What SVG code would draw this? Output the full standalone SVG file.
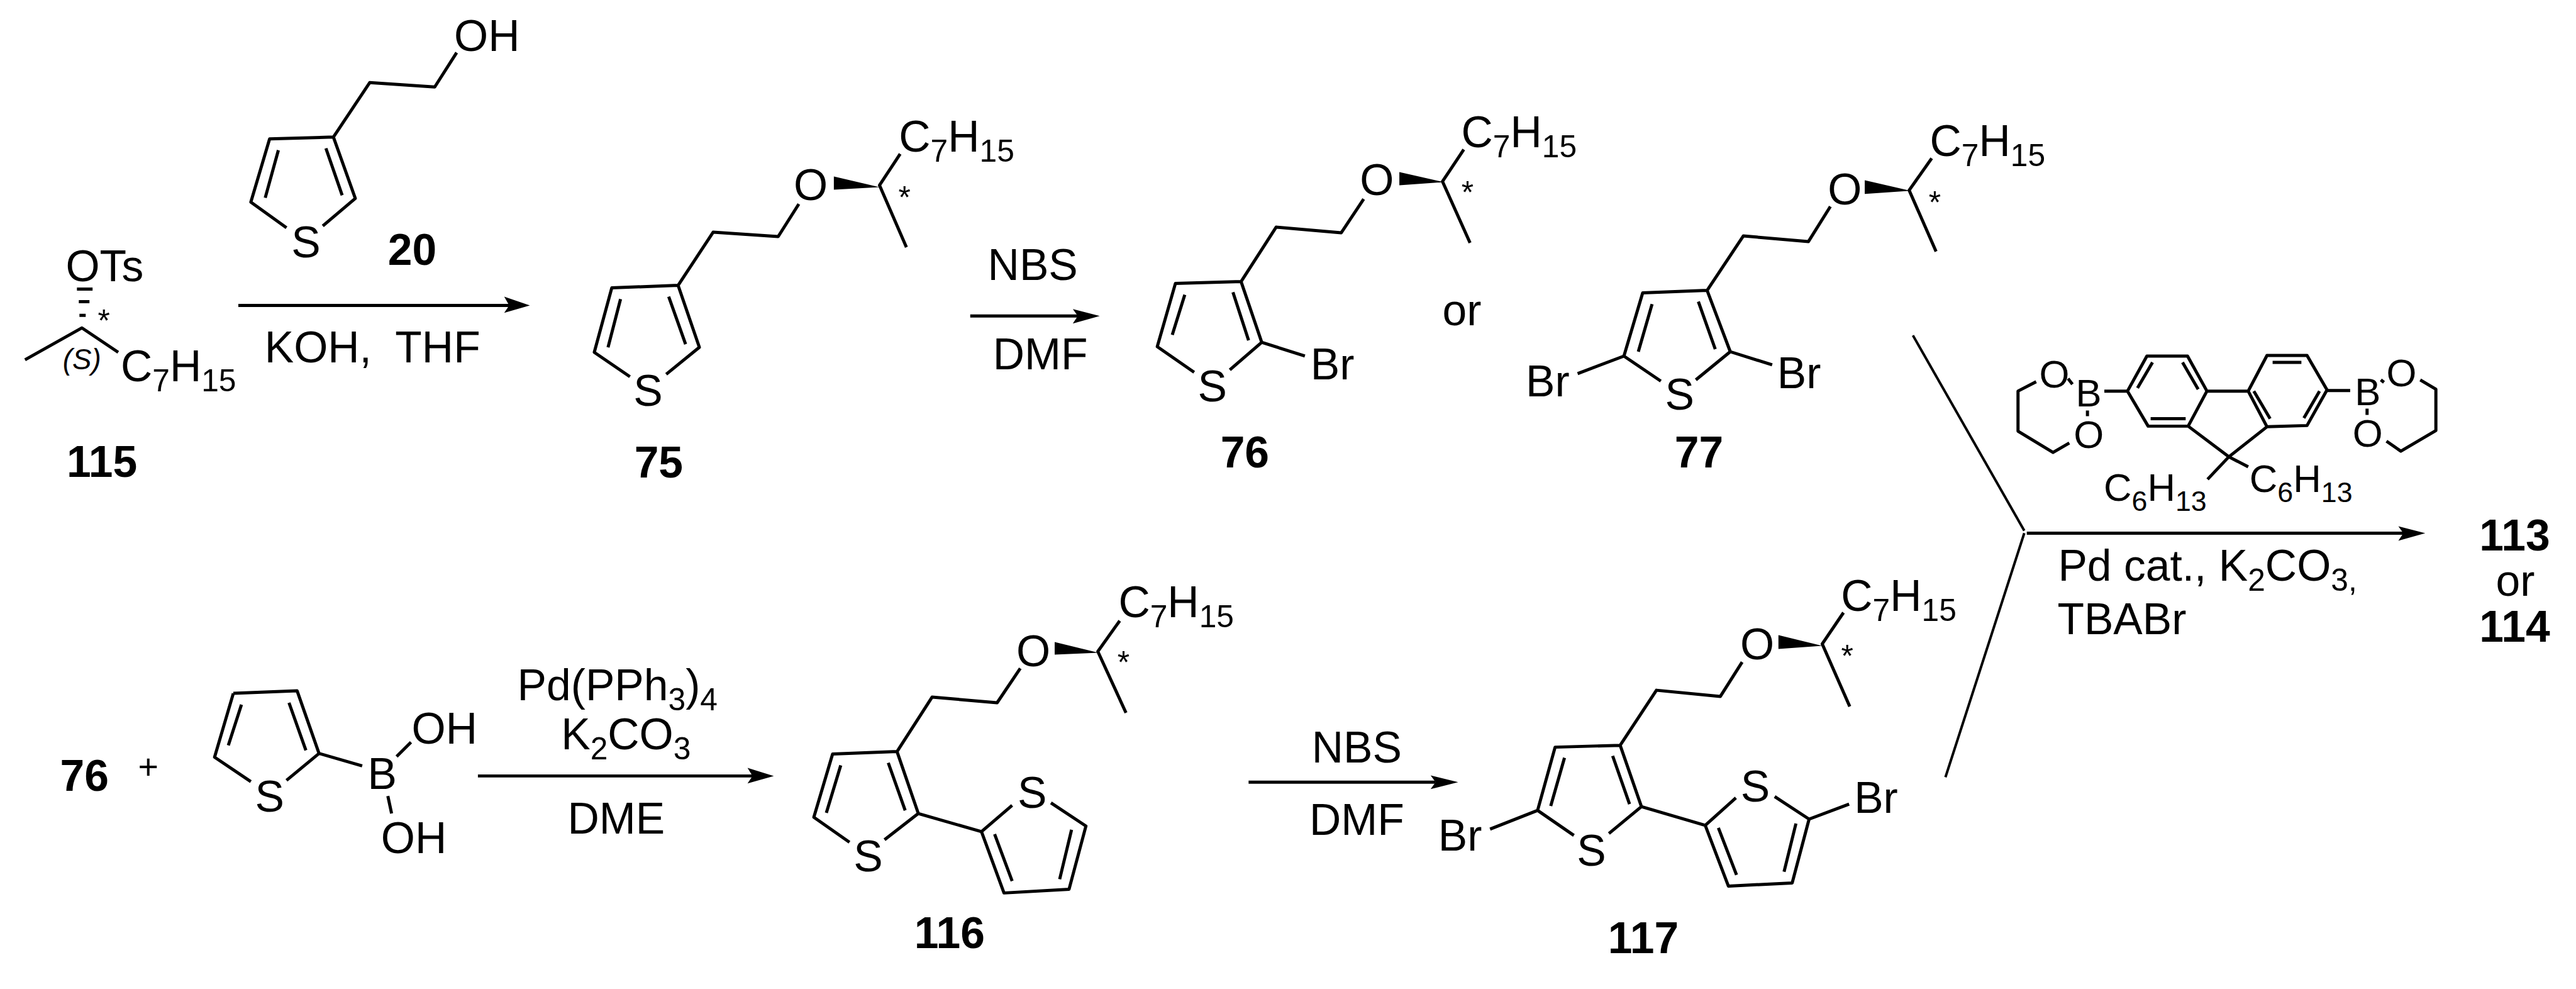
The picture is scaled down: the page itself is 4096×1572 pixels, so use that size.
<svg xmlns="http://www.w3.org/2000/svg" width="4096" height="1572" viewBox="0 0 4096 1572">
<style>
text{font-family:"Liberation Sans",Arial,sans-serif;font-size:70px;fill:#000;white-space:pre}
.m{text-anchor:middle}
.l{font-weight:700}
.s{font-size:50px}
.f{font-size:62px}
.fs{font-size:45px}
.st{font-size:50px;text-anchor:middle}
path{fill:none;stroke:#000;stroke-width:5;stroke-linejoin:round}
.th{stroke-width:4}
polygon{fill:#000;stroke:none}
</style>
<rect width="4096" height="1572" fill="#fff"/>
<g transform="scale(0.99466)">
<g id="connectors">
<path d="M381 488H815"/><polygon points="847,488 806,474 814,488 806,500"/>
<path d="M1551 505H1725"/><polygon points="1758,505 1715,494 1723,505 1715,517"/>
<path d="M764 1240H1205"/><polygon points="1237,1240 1195,1227 1203,1240 1195,1252"/>
<path d="M1996 1250H2295"/><polygon points="2331,1250 2287,1239 2295,1250 2287,1261"/>
<path d="M3240 852H3845"/><polygon points="3877,852 3834,841 3842,852 3834,864"/>
<path class="th" d="M3058 536L3236 848"/>
<path class="th" d="M3236 852L3110 1242"/>
</g>
<g id="reagents">
<text x="423" y="579">KOH,  THF</text>
<text class="m" x="1651" y="447">NBS</text>
<text class="m" x="1663" y="590">DMF</text>
<text class="m" x="2337" y="520">or</text>
<text class="m" x="2169" y="1219">NBS</text>
<text class="m" x="2169" y="1334">DMF</text>
<text x="827" y="1119">Pd(PPh<tspan class="s" dy="16">3</tspan><tspan dy="-16">)</tspan><tspan class="s" dy="16">4</tspan></text>
<text x="897" y="1197">K<tspan class="s" dy="16">2</tspan><tspan dy="-16">CO</tspan><tspan class="s" dy="16">3</tspan></text>
<text class="m" x="985" y="1332">DME</text>
<text x="3290" y="928">Pd cat., K<tspan class="s" dy="16">2</tspan><tspan dy="-16">CO</tspan><tspan class="s" dy="16">3</tspan><tspan class="s" dy="0">,</tspan></text>
<text x="3289" y="1013">TBABr</text>
<text class="m" x="237" y="1245" style="font-size:56px">+</text>
<text class="m l" x="135" y="1264">76</text>
</g>
<g id="compound-20">
<path d="M730 84L695 139L591 132L533 219L431 222L401 323L458 364M533 219L568 317L516 361M445 240L424 316M521 237L547 312"/>
<text x="726" y="81">OH</text>
<text class="m" x="489" y="411">S</text>
<text class="m l" x="659" y="423">20</text>
</g>
<g id="compound-115">
<path d="M40 575L131 524L189 563"/>
<path d="M123 462H148M126 482H143M127 504H137"/>
<text x="105" y="449">OTs</text>
<text class="st" x="166" y="530">*</text>
<text class="m" x="131" y="590" style="font-size:46px;font-style:italic">(S)</text>
<text x="193" y="609">C<tspan class="s" dy="16">7</tspan><tspan dy="-16">H</tspan><tspan class="s" dy="16">15</tspan></text>
<text class="m l" x="163" y="762">115</text>
</g>
<g id="compound-75">
<path d="M1277 326L1244 378L1140 371L1084 456L978 460L950 563L1007 602M1084 456L1118 555L1065 598M992 478L972 555M1069 474L1096 550"/>
<path d="M1439 246L1406 296L1449 395"/>
<polygon points="1333,282 1333,303 1406,299"/>
<text class="m" x="1036" y="648">S</text>
<text class="m" x="1296" y="320">O</text>
<text class="st" x="1446" y="333">*</text>
<text x="1437" y="242">C<tspan class="s" dy="16">7</tspan><tspan dy="-16">H</tspan><tspan class="s" dy="16">15</tspan></text>
<text class="m l" x="1053" y="763">75</text>
</g>
<g id="compound-76">
<path d="M2180 318L2144 372L2040 363L1984 450L1879 453L1850 554L1909 595M1984 450L2017 547L1966 591M2017 547L2086 569M1894 471L1874 535M1971 467L1996 544"/>
<path d="M2340 239L2306 290L2350 388"/>
<polygon points="2237,275 2237,296 2308,291"/>
<text class="m" x="1938" y="641">S</text>
<text x="2095" y="606">Br</text>
<text class="m" x="2201" y="312">O</text>
<text class="st" x="2346" y="325">*</text>
<text x="2336" y="235">C<tspan class="s" dy="16">7</tspan><tspan dy="-16">H</tspan><tspan class="s" dy="16">15</tspan></text>
<text class="m l" x="1990" y="747">76</text>
</g>
<g id="compound-77">
<path d="M2926 330L2891 386L2787 377L2729 464L2626 468L2596 569L2655 609M2729 464L2766 562L2711 607M2596 569L2522 597M2766 562L2833 583M2641 486L2619 562M2715 482L2742 558"/>
<path d="M3088 253L3052 304L3095 402"/>
<polygon points="2981,288 2981,310 3054,305"/>
<text class="m" x="2685" y="655">S</text>
<text x="2439" y="633">Br</text>
<text x="2841" y="620">Br</text>
<text class="m" x="2949" y="327">O</text>
<text class="st" x="3093" y="341">*</text>
<text x="3085" y="249">C<tspan class="s" dy="16">7</tspan><tspan dy="-16">H</tspan><tspan class="s" dy="16">15</tspan></text>
<text class="m l" x="2716" y="747">77</text>
</g>
<g id="boronic-acid">
<path d="M373 1108L475 1104L510 1204L458 1247M373 1108L343 1210L401 1249M510 1204L579 1224M386 1126L365 1191M462 1123L489 1199M634 1209L657 1186M620 1272L626 1300"/>
<text class="m" x="431" y="1297">S</text>
<text class="m" x="611" y="1261">B</text>
<text x="658" y="1188">OH</text>
<text x="609" y="1363">OH</text>
</g>
<g id="compound-116">
<path d="M1631 1068L1594 1123L1490 1114L1434 1201L1331 1205L1301 1306L1358 1346M1434 1201L1468 1300L1414 1342M1468 1300L1569 1329L1618 1287M1569 1329L1605 1427L1709 1421L1736 1320L1680 1283M1344 1223L1321 1299M1420 1219L1447 1295M1590 1333L1618 1408M1713 1326L1694 1405"/>
<path d="M1790 992L1755 1041L1800 1139"/>
<polygon points="1686,1026 1686,1046 1756,1043"/>
<text class="m" x="1388" y="1392">S</text>
<text class="m" x="1650" y="1291">S</text>
<text class="m" x="1652" y="1065">O</text>
<text class="st" x="1796" y="1076">*</text>
<text x="1788" y="986">C<tspan class="s" dy="16">7</tspan><tspan dy="-16">H</tspan><tspan class="s" dy="16">15</tspan></text>
<text class="m l" x="1518" y="1515">116</text>
</g>
<g id="compound-117">
<path d="M2785 1058L2750 1113L2648 1103L2590 1191L2486 1194L2458 1295L2516 1335M2590 1191L2624 1289L2572 1332M2624 1289L2726 1319L2775 1275M2726 1319L2763 1416L2865 1411L2892 1309L2837 1273M2458 1295L2382 1325M2892 1309L2956 1285M2501 1211L2479 1288M2578 1208L2605 1285M2747 1323L2776 1398M2871 1316L2852 1393"/>
<path d="M2947 979L2913 1029L2957 1129"/>
<polygon points="2843,1015 2843,1037 2913,1032"/>
<text class="m" x="2544" y="1383">S</text>
<text class="m" x="2806" y="1281">S</text>
<text x="2299" y="1359">Br</text>
<text x="2964" y="1299">Br</text>
<text class="m" x="2809" y="1054">O</text>
<text class="st" x="2953" y="1066">*</text>
<text x="2943" y="976">C<tspan class="s" dy="16">7</tspan><tspan dy="-16">H</tspan><tspan class="s" dy="16">15</tspan></text>
<text class="m l" x="2627" y="1523">117</text>
</g>
<g id="fluorene-reagent">
<path d="M3401 625L3432 569H3497L3528 625L3498 681H3434ZM3594 625L3624 568H3688L3720 623L3688 680L3624 682ZM3528 625H3594M3498 681L3563 730L3624 682M3563 730L3529 766M3563 730L3594 746M3417 620L3441 579M3489 579L3514 622M3438 669H3494M3633 579H3679M3708 625L3683 668M3603 625L3629 669"/>
<path d="M3255 610L3226 625V689L3282 723L3308 708M3306 605L3313 614M3337 656V665M3364 625H3401M3869 607L3894 622V688L3838 721L3815 705M3720 624H3757M3784 653V663M3806 607L3811 611"/>
<text class="m f" x="3339" y="649">B</text>
<text class="m f" x="3284" y="619">O</text>
<text class="m f" x="3339" y="716">O</text>
<text class="m f" x="3785" y="647">B</text>
<text class="m f" x="3839" y="617">O</text>
<text class="m f" x="3785" y="714">O</text>
<text class="f" x="3363" y="800">C<tspan class="fs" dy="16">6</tspan><tspan dy="-16">H</tspan><tspan class="fs" dy="16">13</tspan></text>
<text class="f" x="3596" y="786">C<tspan class="fs" dy="16">6</tspan><tspan dy="-16">H</tspan><tspan class="fs" dy="16">13</tspan></text>
</g>
<g id="products">
<text class="m l" x="4020" y="880">113</text>
<text class="m" x="4021" y="952">or</text>
<text class="m l" x="4020" y="1025">114</text>
</g>
</g>
</svg>
